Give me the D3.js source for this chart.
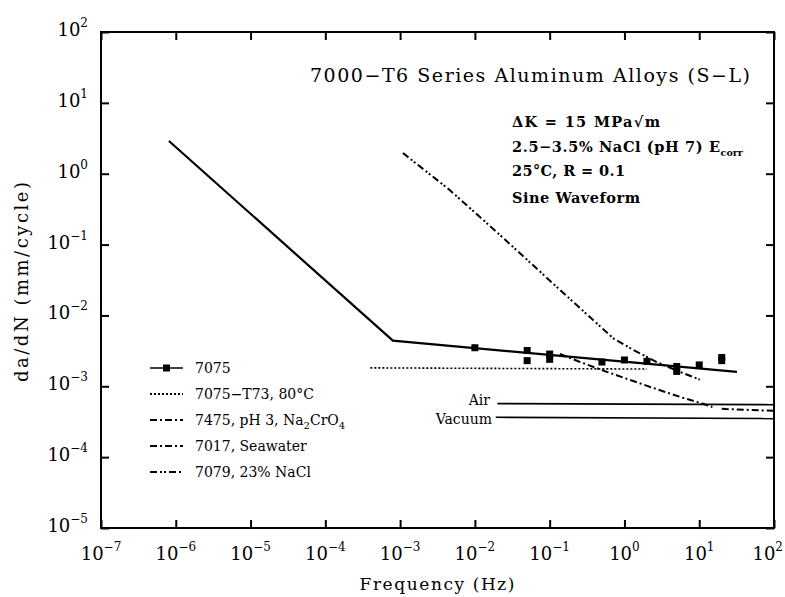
<!DOCTYPE html>
<html><head><meta charset="utf-8">
<script src="https://cdn.jsdelivr.net/npm/d3@7"></script>
<style>
body{margin:0;background:#fff;}
svg{display:block;}
text{font-family:"DejaVu Serif","Liberation Serif",serif;fill:#000;}
</style></head><body>
<svg id="c" width="785" height="597"></svg>
<script>
// ---- data ----
const xTickExps = [-7,-6,-5,-4,-3,-2,-1,0,1,2];
const yTickExps = [-5,-4,-3,-2,-1,0,1,2];

const line7075Freq = [8.1e-7, 8e-4, 32];
const line7075Rate = [2.9, 4.4e-3, 1.6e-3];
const pts7075Freq = [0.01,0.05,0.05,0.1,0.1,0.5,1,2,5,5,10,20,20];
const pts7075Rate = [3.5e-3,3.2e-3,2.3e-3,2.85e-3,2.4e-3,2.2e-3,2.35e-3,2.25e-3,1.9e-3,1.62e-3,2.0e-3,2.3e-3,2.55e-3];
const t73Freq = [4e-4, 2];
const t73Rate = [1.82e-3, 1.75e-3];
const a7475Freq = [0.137,0.25,0.58,2.4,6,10.2,15];
const a7475Rate = [2.87e-3,2.22e-3,1.6e-3,9.5e-4,6.9e-4,5.85e-4,5.1e-4];
const a7017Freq = [20, 100];
const a7017Rate = [4.8e-4, 4.5e-4];
const a7079Freq = [1.09e-3,4.6e-3,0.0216,0.137,0.70,1.29,2.7,5.5,10.2];
const a7079Rate = [1.96,0.59,0.137,0.023,4.8e-3,3.3e-3,2.2e-3,1.6e-3,1.24e-3];
const airFreq = [0.02, 100];
const airRate = [5.7e-4, 5.5e-4];
const vacFreq = [0.019, 100];
const vacRate = [3.65e-4, 3.5e-4];

const legendLabels = ["7075","7075\u2212T73, 80\u00B0C","7475, pH 3, Na|2|CrO|4","7017, Seawater","7079, 23% NaCl"];
const legendDash = [null,"2,2","7,3,2,3","7,3,2,3","7,3,2,2,2,3"];

// ---- layout ----
const L=101, R=774, T=32, B=528;
const svg = d3.select("#c");
const x = d3.scaleLog().domain([1e-7,1e2]).range([L,R]);
const y = d3.scaleLog().domain([1e-5,1e2]).range([B,T]);
const zip = (a,b)=>a.map((v,i)=>[v,b[i]]);

// frame
svg.append("rect").attr("x",L).attr("y",T).attr("width",R-L).attr("height",B-T)
  .attr("fill","none").attr("stroke","#000").attr("stroke-width",2);

const xt = xTickExps.map(e=>Math.pow(10,e));
const yt = yTickExps.map(e=>Math.pow(10,e));
function styleAxis(g){ g.select(".domain").remove(); g.selectAll(".tick line").attr("stroke","#000").attr("stroke-width",2); g.selectAll(".tick text").remove(); }
svg.append("g").attr("transform",`translate(0,${B})`).call(d3.axisBottom(x).tickValues(xt).tickSize(-8).tickFormat("")).call(styleAxis);
svg.append("g").attr("transform",`translate(0,${T})`).call(d3.axisTop(x).tickValues(xt).tickSize(-8).tickFormat("")).call(styleAxis);
svg.append("g").attr("transform",`translate(${L},0)`).call(d3.axisLeft(y).tickValues(yt).tickSize(-8).tickFormat("")).call(styleAxis);
svg.append("g").attr("transform",`translate(${R},0)`).call(d3.axisRight(y).tickValues(yt).tickSize(-8).tickFormat("")).call(styleAxis);

// tick labels
xTickExps.forEach((e,i)=>{
  const last = i===xTickExps.length-1;
  const t = svg.append("text").attr("x",last?783:x(Math.pow(10,e))).attr("y",560)
    .attr("text-anchor",last?"end":"middle").style("font-size","18px");
  t.append("tspan").text("10");
  t.append("tspan").attr("dy",-9).style("font-size","12px").text(e<0?"\u2212"+(-e):String(e));
});
yTickExps.forEach(e=>{
  const t = svg.append("text").attr("x",88).attr("y",y(Math.pow(10,e))+4).attr("text-anchor","end").style("font-size","18px");
  t.append("tspan").text("10");
  t.append("tspan").attr("dy",-9).style("font-size","12px").text(e<0?"\u2212"+(-e):String(e));
});

// axis titles
svg.append("text").attr("x",437).attr("y",590).attr("text-anchor","middle").style("font-size","17px")
  .attr("textLength",155).attr("lengthAdjust","spacing").text("Frequency (Hz)");
svg.append("text").attr("transform","translate(28,282) rotate(-90)").attr("text-anchor","middle").style("font-size","18px")
  .attr("textLength",200).attr("lengthAdjust","spacing").text("da/dN (mm/cycle)");

// lines
const line = d3.line().x(d=>x(d[0])).y(d=>y(d[1]));
function draw(data,dash,w){ svg.append("path").datum(data).attr("d",line).attr("fill","none").attr("stroke","#000").attr("stroke-width",w||2).attr("stroke-dasharray",dash||null); }
draw(zip(line7075Freq,line7075Rate),null,2.2);
draw(zip(t73Freq,t73Rate),"2,2",1.6);
draw(zip(a7475Freq,a7475Rate),"7,3,2,3",2);
draw(zip(a7017Freq,a7017Rate),"7,3,2,3",2);
draw(zip(a7079Freq,a7079Rate),"7,3,2,2,2,3",2);
draw(zip(airFreq,airRate),null,1.6);
draw(zip(vacFreq,vacRate),null,1.6);

svg.selectAll("rect.pt").data(zip(pts7075Freq,pts7075Rate)).enter().append("rect").attr("class","pt")
  .attr("x",d=>x(d[0])-3.5).attr("y",d=>y(d[1])-3.5).attr("width",7).attr("height",7).attr("fill","#000");

svg.append("text").attr("x",490).attr("y",y(airRate[0])+1).attr("text-anchor","end").style("font-size","14px").text("Air");
svg.append("text").attr("x",492).attr("y",y(vacRate[0])+7).attr("text-anchor","end").style("font-size","14px").text("Vacuum");

// annotations
svg.append("text").attr("x",310).attr("y",82).style("font-size","19px")
  .attr("textLength",440).attr("lengthAdjust","spacing").text("7000\u2212T6 Series Aluminum Alloys (S\u2212L)");
const ann = svg.append("g").style("font-size","14.5px").style("font-weight","bold");
ann.append("text").attr("x",512).attr("y",127).attr("textLength",148).attr("lengthAdjust","spacing").text("\u0394K = 15 MPa\u221Am");
const a2 = ann.append("text").attr("x",512).attr("y",152);
a2.append("tspan").attr("textLength",208).attr("lengthAdjust","spacing").text("2.5\u22123.5% NaCl (pH 7) E");
a2.append("tspan").attr("dy",4).style("font-size","9.5px").text("corr");
ann.append("text").attr("x",512).attr("y",176).attr("textLength",113).attr("lengthAdjust","spacing").text("25\u00B0C, R = 0.1");
ann.append("text").attr("x",512).attr("y",203).attr("textLength",128).attr("lengthAdjust","spacing").text("Sine Waveform");

// legend
legendLabels.forEach((lab,i)=>{
  const yy = 368 + i*26;
  const g = svg.append("g");
  g.append("line").attr("x1",150).attr("x2",183).attr("y1",yy).attr("y2",yy).attr("stroke","#000")
    .attr("stroke-width",legendDash[i]?2:1.6).attr("stroke-dasharray",legendDash[i]);
  if(i===0) g.append("rect").attr("x",163).attr("y",yy-3.5).attr("width",7).attr("height",7).attr("fill","#000");
  const t = g.append("text").attr("x",195).attr("y",yy+5).style("font-size","14px");
  const parts = lab.split("|");
  parts.forEach((p,j)=>{
    const sp = t.append("tspan").text(p);
    if(j%2===1){ sp.attr("dy",4).style("font-size","10px"); }
    else if(j>0){ sp.attr("dy",-4); }
  });
});
</script></body></html>
